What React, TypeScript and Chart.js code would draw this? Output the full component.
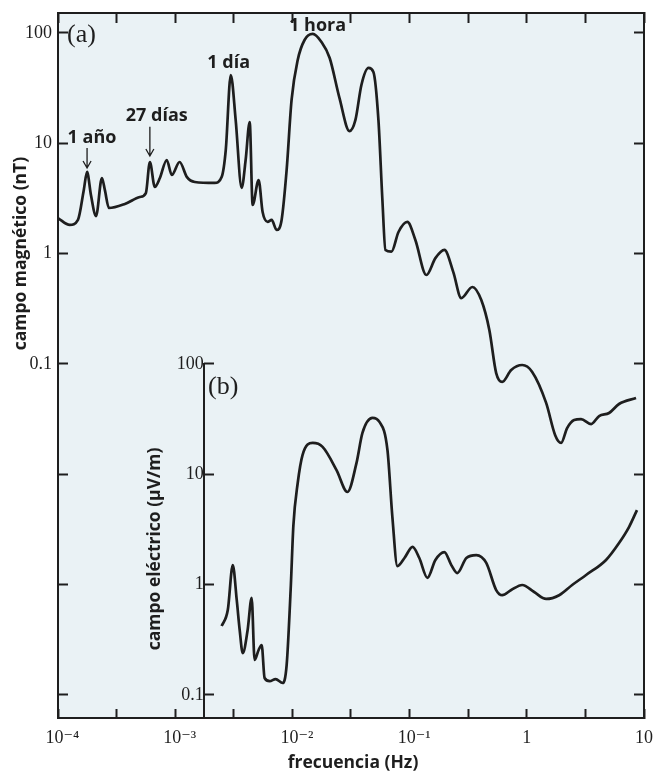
import { useEffect, useRef } from 'react';
import { Chart, registerables } from 'chart.js';

Chart.register(...registerables);

// ---- data ----
const magFreq = [
  1.00e-4, 1.26e-4, 1.48e-4, 1.66e-4, 1.77e-4, 1.91e-4, 2.11e-4, 2.37e-4, 2.51e-4, 2.72e-4,
  3.72e-4, 4.99e-4, 5.62e-4, 6.08e-4, 6.70e-4, 7.40e-4, 8.47e-4, 9.35e-4, 1.09e-3, 1.26e-3,
  1.47e-3, 2.17e-3, 2.49e-3, 2.70e-3, 2.98e-3, 3.28e-3, 3.69e-3, 3.99e-3, 4.32e-3, 4.58e-3,
  5.15e-3, 5.57e-3, 6.15e-3, 6.65e-3, 7.33e-3, 8.09e-3, 8.93e-3, 9.84e-3, 1.11e-2, 1.27e-2,
  1.49e-2, 1.77e-2, 2.08e-2, 2.52e-2, 3.07e-2, 3.45e-2, 3.88e-2, 4.46e-2, 4.91e-2, 5.42e-2,
  5.86e-2, 6.22e-2, 7.00e-2, 8.04e-2, 9.57e-2, 0.112, 0.139, 0.166, 0.198, 0.236,
  0.276, 0.343, 0.409, 0.479, 0.548, 0.617, 0.736, 0.914, 1.112, 1.462,
  1.746, 1.963, 2.208, 2.535, 2.904, 3.540, 4.140, 5.035, 6.124, 8.551,
];
const magField = [
  2.10, 1.82, 2.02, 3.78, 5.50, 3.40, 2.19, 4.84, 3.78, 2.59,
  2.82, 3.26, 3.54, 6.77, 4.02, 4.84, 7.06, 5.16, 6.77, 4.94,
  4.46, 4.37, 4.94, 8.69, 41.6, 16.3, 3.94, 7.06, 15.6, 2.76,
  4.65, 2.38, 1.94, 2.02, 1.64, 2.02, 5.73, 24.7, 56.9, 86.4,
  98, 82.8, 59.3, 25.8, 12.9, 16.3, 33.8, 48.2, 44.3, 16.3,
  3.06, 1.08, 1.04, 1.57, 1.94, 1.33, 0.64, 0.91, 1.08, 0.68,
  0.395, 0.498, 0.379, 0.203, 0.0826, 0.0686, 0.0881, 0.0977, 0.0846, 0.0443,
  0.0226, 0.0192, 0.0262, 0.0310, 0.0316, 0.0285, 0.0337, 0.0359, 0.0433, 0.0491,
];
const elecFreq = [
  2.49e-3, 2.81e-3, 3.10e-3, 3.35e-3, 3.55e-3, 3.77e-3, 4.15e-3, 4.49e-3, 4.76e-3, 5.15e-3,
  5.47e-3, 5.79e-3, 6.40e-3, 7.19e-3, 8.26e-3, 8.93e-3, 9.66e-3, 1.02e-2, 1.11e-2, 1.22e-2,
  1.49e-2, 1.81e-2, 2.38e-2, 2.95e-2, 3.52e-2, 3.96e-2, 4.82e-2, 5.53e-2, 6.47e-2, 7.13e-2,
  7.87e-2, 9.04e-2, 0.106, 0.121, 0.142, 0.166, 0.198, 0.227, 0.255, 0.305,
  0.371, 0.451, 0.548, 0.617, 0.736, 0.914, 1.156, 1.462, 1.888, 2.438,
  3.206, 4.742, 6.124, 7.447, 8.710,
];
const elecField = [
  0.42, 0.587, 1.50, 0.724, 0.387, 0.239, 0.387, 0.755, 0.207, 0.255,
  0.283, 0.142, 0.133, 0.139, 0.128, 0.186, 0.891, 3.46, 8.32, 14.9,
  19.2, 17.7, 10.9, 6.90, 12.6, 23.7, 32.4, 29.8, 16.6, 4.09,
  1.47, 1.74, 2.19, 1.74, 1.15, 1.67, 1.97, 1.50, 1.27, 1.74,
  1.85, 1.57, 0.891, 0.80, 0.891, 0.99, 0.855, 0.740, 0.80, 0.99,
  1.22, 1.67, 2.38, 3.32, 4.73,
];

// ---- axes ----
const xMin = 1e-4;
const xMax = 10;
const yMin = 6.163e-5;
const yMax = 151.8;
const insetScaleFactor = 1000; // panel (b) axis is offset by 3 decades
const insetAxisFreq = 1.75e-3;
const insetAxisTop = 100;

const xTickValues = [1e-4, 3.162e-4, 1e-3, 3.162e-3, 1e-2, 3.162e-2, 0.1, 0.3162, 1, 3.162, 10];
const xLabelValues = [1e-4, 1e-3, 1e-2, 1e-1, 1, 10];
const xLabelTexts = [
  '\u200710\u207B\u2074',
  '\u200710\u207B\u00B3',
  '\u200710\u207B\u00B2',
  '\u200710\u207B\u00B9',
  '1',
  '10',
];

const yTickValues = [100, 10, 1, 0.1, 0.01, 0.001, 0.0001];
const yLabelValues = [100, 10, 1, 0.1];
const yLabelTexts = ['100', '10', '1', '0.1'];

const ybTickValues = [100, 10, 1, 0.1];
const ybLabelTexts = ['100', '10', '1', '0.1'];

// ---- annotations (data coords of panel a) ----
const noteTexts = ['1 año', '27 días', '1 día', '1 hora'];
const noteFreq = [1.95e-4, 6.96e-4, 2.86e-3, 1.64e-2];
const noteField = [11.2, 17.7, 53.5, 116];
const arrowFreq = [1.77e-4, 6.08e-4];
const arrowFrom = [9.06, 14.1];
const arrowTo = [5.97, 7.67];

const ink = '#1e1e1e';
const plotBg = '#eaf2f5';
const serif = "'Liberation Serif', 'DejaVu Serif', serif";
const sans = "'Open Sans', 'Noto Sans', sans-serif";

const same = (a: number, b: number) => Math.abs(Math.log10(a) - Math.log10(b)) < 1e-3;
const labeler = (vals: number[], texts: string[]) => (v: any) => {
  const n = Number(v);
  const i = vals.findIndex((t) => same(t, n));
  return i >= 0 ? texts[i] : '';
};

const overlay = {
  id: 'overlay',
  beforeDraw(chart: any) {
    const { ctx, chartArea: a } = chart;
    ctx.save();
    ctx.fillStyle = '#ffffff';
    ctx.fillRect(0, 0, chart.width, chart.height);
    ctx.fillStyle = plotBg;
    ctx.fillRect(a.left, a.top, a.right - a.left, a.bottom - a.top);
    ctx.restore();
  },
  afterDraw(chart: any) {
    const { ctx, chartArea: a, scales } = chart;
    const x = scales.x;
    const y = scales.y;
    const yb = scales.yb;
    ctx.save();
    // inset axis line
    const ax = Math.round(x.getPixelForValue(insetAxisFreq));
    ctx.strokeStyle = ink;
    ctx.lineWidth = 2;
    ctx.beginPath();
    ctx.moveTo(ax, yb.getPixelForValue(insetAxisTop) - 1);
    ctx.lineTo(ax, a.bottom);
    ctx.stroke();

    // panel letters
    ctx.fillStyle = ink;
    ctx.font = `26px ${serif}`;
    ctx.textAlign = 'left';
    ctx.textBaseline = 'middle';
    ctx.fillText('(a)', a.left + 9, y.getPixelForValue(100) + 2);
    ctx.fillText('(b)', ax + 4, yb.getPixelForValue(62));

    // annotations
    ctx.font = `bold 18px ${sans}`;
    ctx.textAlign = 'center';
    noteTexts.forEach((t, i) => {
      ctx.fillText(t, x.getPixelForValue(noteFreq[i]), y.getPixelForValue(noteField[i]));
    });
    ctx.lineWidth = 1.3;
    arrowFreq.forEach((f, i) => {
      const px = x.getPixelForValue(f);
      const y1 = y.getPixelForValue(arrowFrom[i]);
      const y2 = y.getPixelForValue(arrowTo[i]);
      ctx.beginPath();
      ctx.moveTo(px, y1);
      ctx.lineTo(px, y2);
      ctx.moveTo(px - 4, y2 - 7);
      ctx.lineTo(px, y2);
      ctx.lineTo(px + 4, y2 - 7);
      ctx.stroke();
    });

    // axis titles
    ctx.font = `bold 17.5px ${sans}`;
    ctx.textAlign = 'center';
    ctx.textBaseline = 'middle';
    ctx.fillText('frecuencia (Hz)', (a.left + a.right) / 2 + 2, a.bottom + 45);
    ctx.save();
    ctx.translate(a.left - 37, y.getPixelForValue(1));
    ctx.rotate(-Math.PI / 2);
    ctx.fillText('campo magnético (nT)', 0, 0);
    ctx.restore();
    ctx.save();
    ctx.translate(ax - 49, yb.getPixelForValue(2.1));
    ctx.rotate(-Math.PI / 2);
    ctx.fillText('campo eléctrico (µV/m)', 0, 0);
    ctx.restore();
    ctx.restore();
  },
};

const fixSize = (w: number | null, h: number | null) => (s: any) => {
  if (w !== null) s.width = w;
  if (h !== null) s.height = h;
  s.paddingLeft = 0;
  s.paddingRight = 0;
  s.paddingTop = 0;
  s.paddingBottom = 0;
};

export default function App() {
  const ref = useRef<HTMLCanvasElement | null>(null);
  useEffect(() => {
    if (!ref.current) return;
    const axisGrid = (len: number) => ({
      drawOnChartArea: false,
      tickLength: -len,
      tickWidth: 2,
      color: ink,
    });
    const border = { display: true, width: 2, color: ink };
    const chart = new Chart(ref.current, {
      type: 'line',
      data: {
        datasets: [
          {
            data: magFreq.map((f, i) => ({ x: f, y: magField[i] })),
            xAxisID: 'x',
            yAxisID: 'y',
            borderColor: ink,
            borderWidth: 2.7,
            pointRadius: 0,
            cubicInterpolationMode: 'monotone',
          },
          {
            data: elecFreq.map((f, i) => ({ x: f, y: elecField[i] })),
            xAxisID: 'x',
            yAxisID: 'yb',
            borderColor: ink,
            borderWidth: 2.7,
            pointRadius: 0,
            cubicInterpolationMode: 'monotone',
          },
        ],
      },
      options: {
        animation: false,
        responsive: true,
        maintainAspectRatio: false,
        layout: { padding: 0 },
        plugins: { legend: { display: false }, tooltip: { enabled: false } },
        scales: {
          x: {
            type: 'logarithmic',
            position: 'bottom',
            min: xMin,
            max: xMax,
            afterBuildTicks: (s: any) => {
              s.ticks = xTickValues.map((v) => ({ value: v }));
            },
            afterFit: fixSize(null, 55),
            ticks: {
              autoSkip: false,
              maxRotation: 0,
              padding: 18,
              color: ink,
              font: { family: serif, size: 18 },
              callback: labeler(xLabelValues, xLabelTexts),
            },
            grid: axisGrid(9),
            border,
          },
          xTop: {
            type: 'logarithmic',
            position: 'top',
            min: xMin,
            max: xMax,
            afterBuildTicks: (s: any) => {
              s.ticks = xTickValues.map((v) => ({ value: v }));
            },
            afterFit: fixSize(null, 13),
            ticks: { display: false },
            grid: axisGrid(10),
            border,
          },
          y: {
            type: 'logarithmic',
            position: 'left',
            min: yMin,
            max: yMax,
            afterBuildTicks: (s: any) => {
              s.ticks = yTickValues.map((v) => ({ value: v }));
            },
            afterFit: fixSize(58, null),
            ticks: {
              autoSkip: false,
              padding: 16,
              color: ink,
              font: { family: serif, size: 18 },
              callback: labeler(yLabelValues, yLabelTexts),
            },
            grid: axisGrid(10),
            border,
          },
          yRight: {
            type: 'logarithmic',
            position: 'right',
            min: yMin,
            max: yMax,
            afterBuildTicks: (s: any) => {
              s.ticks = yTickValues.map((v) => ({ value: v }));
            },
            afterFit: fixSize(13, null),
            ticks: { display: false },
            grid: axisGrid(10),
            border,
          },
          yb: {
            type: 'logarithmic',
            position: { x: insetAxisFreq },
            min: yMin * insetScaleFactor,
            max: yMax * insetScaleFactor,
            afterBuildTicks: (s: any) => {
              s.ticks = ybTickValues.map((v) => ({ value: v }));
            },
            afterFit: fixSize(null, null),
            ticks: {
              autoSkip: false,
              padding: 16,
              color: ink,
              font: { family: serif, size: 18 },
              callback: labeler(ybTickValues, ybLabelTexts),
            },
            grid: axisGrid(10),
            border: { display: false },
          },
        },
      } as any,
      plugins: [overlay],
    });
    return () => chart.destroy();
  }, []);

  return (
    <div style={{ position: 'fixed', left: 0, top: 0, width: 657, height: 773, background: '#fff' }}>
      <canvas ref={ref} />
    </div>
  );
}
